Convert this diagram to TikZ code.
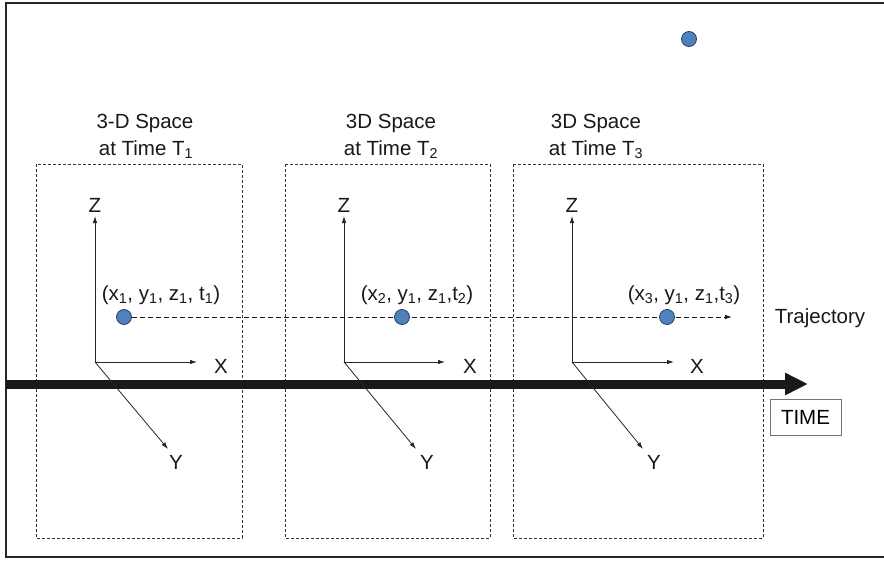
\documentclass[tikz,border=0pt]{standalone}
\usepackage{fontspec}
\setmainfont{Liberation Sans}
\usetikzlibrary{arrows.meta}
\definecolor{dotblue}{HTML}{4F81BD}
\definecolor{dotedge}{HTML}{2A3F5C}
\begin{document}
\begin{tikzpicture}[x=1pt,y=-1pt,
  txt/.style={font=\fontsize{20.5}{24}\selectfont, inner sep=0pt, text=black!90},
  spacebox/.style={draw=black!80, line width=0.6pt, dash pattern=on 3pt off 2pt},
  axis/.style={draw=black!85, line width=0.8pt, -{Latex[length=7pt,width=4.5pt]}},
  dot/.style={circle, fill=dotblue, draw=dotedge, line width=0.8pt, minimum size=15pt, inner sep=0pt},
  traj/.style={draw=black!90, line width=0.9pt, dash pattern=on 5pt off 3pt, -{Latex[length=7pt,width=4.5pt]}},
  timearrow/.style={draw=black!90, line width=9pt, -{Triangle[length=23pt,width=21pt]}},
  timebox/.style={draw=black!55, line width=0.9pt, minimum width=71pt, minimum height=36pt, inner sep=0pt, font=\fontsize{20.5}{24}\selectfont}
]
\useasboundingbox (0,0) rectangle (884,562);
\fill[white] (0,0) rectangle (884,562);
% outer frame
\draw[line width=2.2pt, black!85] (886,3) -- (6,3) -- (6,557) -- (886,557);

% dashed space boxes
\draw[spacebox] (36,164) rectangle (242,538);
\draw[spacebox] (285,164) rectangle (490,538);
\draw[spacebox] (513,164) rectangle (763,538);

% titles
\node[txt, anchor=base] (ta1) at (145,128) {3-D Space};
\node[txt, anchor=base] (tb1) at (146,155) {at Time T\textsubscript{1}};
\node[txt, anchor=base] (ta2) at (391,128) {3D Space};
\node[txt, anchor=base] (tb2) at (391,155) {at Time T\textsubscript{2}};
\node[txt, anchor=base] (ta3) at (596,128) {3D Space};
\node[txt, anchor=base] (tb3) at (596,155) {at Time T\textsubscript{3}};

% time arrow
\coordinate (tstart) at (6,384);
\coordinate (tend) at (808,384);
\draw[timearrow] (tstart) -- (tend);
\node[timebox] (time) at (805.5,417) {TIME};

% axes
\foreach \i/\ox/\xt/\xl/\yt/\yl in {1/95/197/221/168/176, 2/344/445/470/416/427, 3/572/674/697/643/654}{
  \coordinate (o\i) at (\ox,362);
  \coordinate (zt\i) at (\ox,216);
  \coordinate (xt\i) at (\xt,362);
  \coordinate (yt\i) at (\yt,449);
  \node[txt] (zl\i) at (\ox,205) {Z};
  \node[txt] (xl\i) at (\xl,366) {X};
  \node[txt] (yl\i) at (\yl,462) {Y};
  \draw[axis] (o\i) -- (zt\i);
  \draw[axis] (o\i) -- (xt\i);
  \draw[axis] (o\i) -- (yt\i);
}

% trajectory
\node[dot] (d1) at (124,317) {};
\coordinate (trajend) at (732,317);
\draw[traj] (d1.east) -- (trajend);
\node[dot] (d2) at (402,317) {};
\node[dot] (d3) at (667,317) {};
\node[dot] (d4) at (689,39) {};

% labels
\node[txt, anchor=base] (c1) at (161,300) {(x\textsubscript{1}, y\textsubscript{1}, z\textsubscript{1}, t\textsubscript{1})};
\node[txt, anchor=base] (c2) at (417,300) {(x\textsubscript{2}, y\textsubscript{1}, z\textsubscript{1},t\textsubscript{2})};
\node[txt, anchor=base] (c3) at (684,300) {(x\textsubscript{3}, y\textsubscript{1}, z\textsubscript{1},t\textsubscript{3})};
\node[txt, anchor=base] (trj) at (820,323) {Trajectory};
\end{tikzpicture}
\end{document}
